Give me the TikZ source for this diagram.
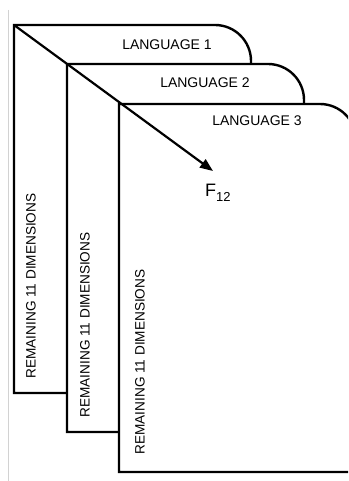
\documentclass[tikz,border=0pt]{standalone}
\usepackage{fontspec}
\setmainfont{Liberation Sans}
\usetikzlibrary{arrows.meta}
\begin{document}
\begin{tikzpicture}[x=1pt,y=-1pt,
  card/.style={draw=black,fill=white,line width=2.4pt,line join=miter},
  lang/.style={font=\fontsize{14}{16}\selectfont,inner sep=0pt},
  dims/.style={font=\fontsize{13.6}{16}\selectfont,inner sep=0pt,rotate=90},
  vec/.style={line width=2.2pt,-{Triangle[length=13pt,width=10pt]}}]
\useasboundingbox (0,0) rectangle (348,481);
\draw[gray!35,line width=0.8pt] (8,10) -- (8,481);
\begin{scope}
\clip (0,0) rectangle (348,481);
% card 1
\draw[card] (14,393) -- (14,25) [rounded corners=36pt] -- (251,25) [sharp corners] -- (251,393) -- cycle;
% card 2
\draw[card] (67,432) -- (67,64) [rounded corners=36pt] -- (304,64) [sharp corners] -- (304,432) -- cycle;
% card 3
\draw[card] (119,472) -- (119,104) [rounded corners=36pt] -- (356,104) [sharp corners] -- (356,472) -- cycle;
\end{scope}
\coordinate (c1) at (14,25);
\coordinate (tip) at (213,171);
\node[lang] (l1) at (167,45) {LANGUAGE 1};
\node[lang] (l2) at (205,83) {LANGUAGE 2};
\node[lang] (l3) at (257,121) {LANGUAGE 3};
\node[dims] (d1) at (31,286) {REMAINING 11 DIMENSIONS};
\node[dims] (d2) at (85,325) {REMAINING 11 DIMENSIONS};
\node[dims] (d3) at (140,362) {REMAINING 11 DIMENSIONS};
\node[inner sep=0pt,anchor=base west] (f) at (205,196) {\fontsize{18}{20}\selectfont F\raisebox{-5pt}{\fontsize{13}{14}\selectfont 12}};
\draw[vec] (c1) -- (tip);
\end{tikzpicture}
\end{document}
